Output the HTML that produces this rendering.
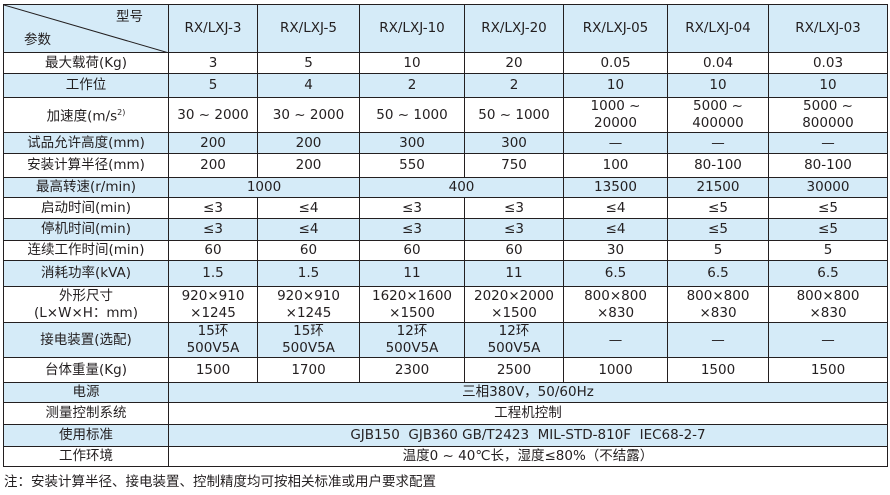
<!DOCTYPE html>
<html><head><meta charset="utf-8">
<style>
body{margin:0;background:#fff;width:890px;height:495px;overflow:hidden;position:relative;font-family:"DejaVu Sans","Noto Sans CJK SC",sans-serif;color:#231f20;}
table{position:absolute;left:3px;top:4px;border-collapse:collapse;table-layout:fixed;font-size:13.5px;}
td{border:1.3px solid #231f20;text-align:center;padding:0;line-height:17px;white-space:nowrap;overflow:hidden;}
tr.b td{background:#d5ebf8;}
.note{position:absolute;left:4px;top:470px;font-size:13.5px;}
sup{font-size:8px;}
</style></head><body>
<table>
<colgroup><col style="width:165px"><col style="width:89px"><col style="width:102px"><col style="width:105px"><col style="width:99px"><col style="width:104px"><col style="width:101px"><col style="width:119px"></colgroup>
<tr class="b" style="height:48px"><td style="position:relative;text-align:left">
<svg width="165" height="48" style="position:absolute;left:0;top:0"><line x1="0" y1="0" x2="165" y2="48" stroke="#231f20" stroke-width="1"/></svg>
<span style="position:absolute;left:112px;top:4px">型号</span><span style="position:absolute;left:20px;top:27px">参数</span></td>
<td>RX/LXJ-3</td><td>RX/LXJ-5</td><td>RX/LXJ-10</td><td>RX/LXJ-20</td><td>RX/LXJ-05</td><td>RX/LXJ-04</td><td>RX/LXJ-03</td></tr>
<tr style="height:21px"><td>最大载荷(Kg)</td><td>3</td><td>5</td><td>10</td><td>20</td><td>0.05</td><td>0.04</td><td>0.03</td></tr>
<tr class="b" style="height:24px"><td>工作位</td><td>5</td><td>4</td><td>2</td><td>2</td><td>10</td><td>10</td><td>10</td></tr>
<tr style="height:35px"><td>加速度(m/s<sup>2)</sup></td><td>30 ~ 2000</td><td>30 ~ 2000</td><td>50 ~ 1000</td><td>50 ~ 1000</td><td>1000 ~<br>20000</td><td>5000 ~<br>400000</td><td>5000 ~<br>800000</td></tr>
<tr class="b" style="height:21px"><td>试品允许高度(mm)</td><td>200</td><td>200</td><td>300</td><td>300</td><td>—</td><td>—</td><td>—</td></tr>
<tr style="height:24px"><td>安装计算半径(mm)</td><td>200</td><td>200</td><td>550</td><td>750</td><td>100</td><td>80-100</td><td>80-100</td></tr>
<tr class="b" style="height:20px"><td>最高转速(r/min)</td><td colspan="2">1000</td><td colspan="2">400</td><td>13500</td><td>21500</td><td>30000</td></tr>
<tr style="height:21px"><td>启动时间(min)</td><td>≤3</td><td>≤4</td><td>≤3</td><td>≤3</td><td>≤4</td><td>≤5</td><td>≤5</td></tr>
<tr class="b" style="height:22px"><td>停机时间(min)</td><td>≤3</td><td>≤4</td><td>≤3</td><td>≤3</td><td>≤4</td><td>≤5</td><td>≤5</td></tr>
<tr style="height:20px"><td>连续工作时间(min)</td><td>60</td><td>60</td><td>60</td><td>60</td><td>30</td><td>5</td><td>5</td></tr>
<tr class="b" style="height:26px"><td>消耗功率(kVA)</td><td>1.5</td><td>1.5</td><td>11</td><td>11</td><td>6.5</td><td>6.5</td><td>6.5</td></tr>
<tr style="height:36px"><td>外形尺寸<br>(L×W×H：mm)</td><td>920×910<br>×1245</td><td>920×910<br>×1245</td><td>1620×1600<br>×1500</td><td>2020×2000<br>×1500</td><td>800×800<br>×830</td><td>800×800<br>×830</td><td>800×800<br>×830</td></tr>
<tr class="b" style="height:34px"><td>接电装置(选配)</td><td>15环<br>500V5A</td><td>15环<br>500V5A</td><td>12环<br>500V5A</td><td>12环<br>500V5A</td><td>—</td><td>—</td><td>—</td></tr>
<tr style="height:25px"><td>台体重量(Kg)</td><td>1500</td><td>1700</td><td>2300</td><td>2500</td><td>1000</td><td>1500</td><td>1500</td></tr>
<tr class="b" style="height:20px"><td>电源</td><td colspan="7">三相380V，50/60Hz</td></tr>
<tr style="height:22px"><td>测量控制系统</td><td colspan="7">工程机控制</td></tr>
<tr class="b" style="height:22px"><td>使用标准</td><td colspan="7">GJB150&nbsp; GJB360 GB/T2423&nbsp; MIL-STD-810F&nbsp; IEC68-2-7</td></tr>
<tr style="height:20px"><td>工作环境</td><td colspan="7">温度0 ~ 40℃长，湿度≤80%（不结露）</td></tr>
</table>
<div class="note">注：安装计算半径、接电装置、控制精度均可按相关标准或用户要求配置</div>
</body></html>
